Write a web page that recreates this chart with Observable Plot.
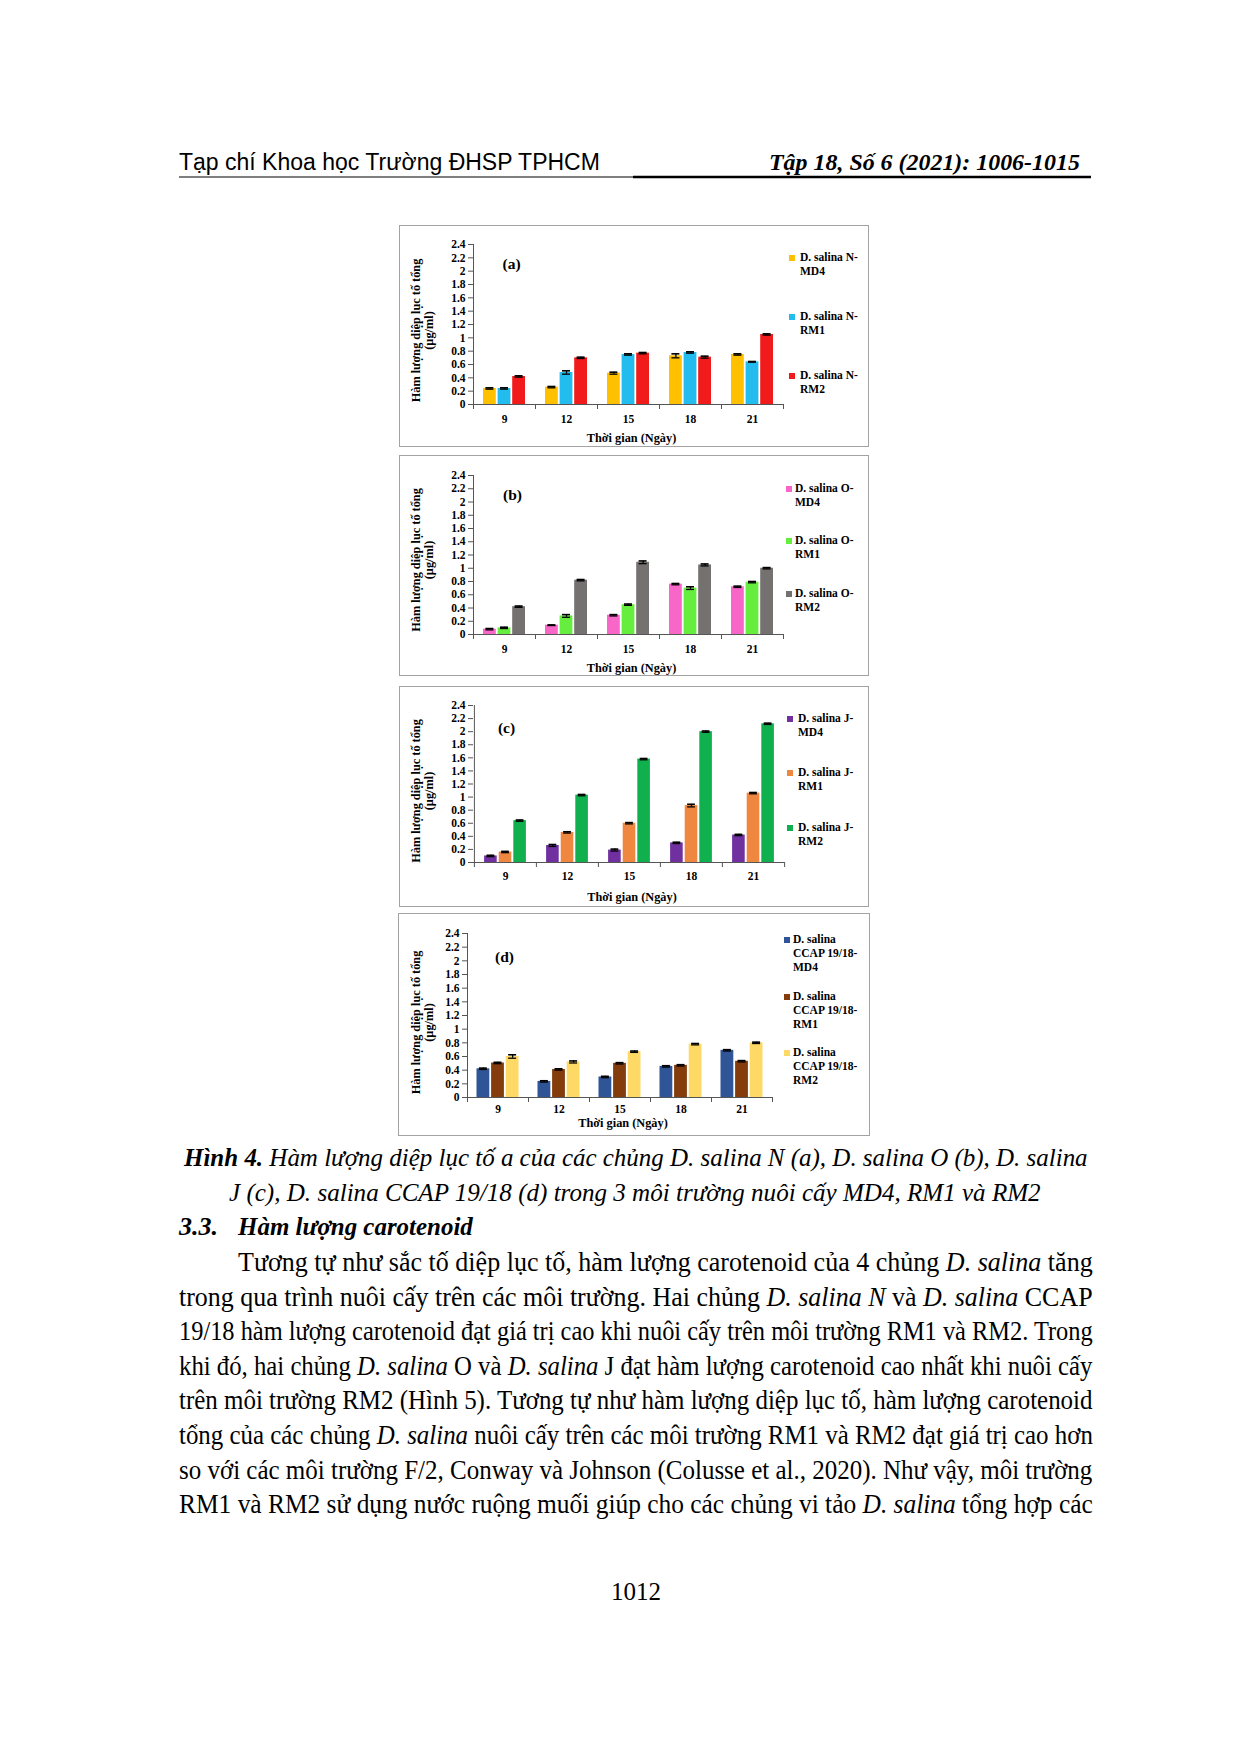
<!DOCTYPE html>
<html><head><meta charset="utf-8">
<script src="https://cdn.jsdelivr.net/npm/d3@7"></script>
<script src="https://cdn.jsdelivr.net/npm/@observablehq/plot@0.6"></script>
<style>
body{margin:0;background:#fff;width:1240px;height:1754px;position:relative;overflow:hidden}
.abs{position:absolute}
.box{position:absolute;border:1px solid #a3a3a3;box-sizing:border-box}
.leg{position:absolute;font:bold 11.5px "Liberation Serif",serif;line-height:13.8px;color:#000;white-space:pre}
.sw{position:absolute;width:6px;height:6px}
</style></head><body>
<svg id="page" class="abs" width="1240" height="1754" style="left:0;top:0"></svg>
<script>
// ---------- data ----------
const days = [9, 12, 15, 18, 21];
const yTicks = [0, 0.2, 0.4, 0.6, 0.8, 1, 1.2, 1.4, 1.6, 1.8, 2, 2.2, 2.4];
const yTitle = "Hàm lượng diệp lục tố tổng\n(µg/ml)";
const xTitle = "Thời gian (Ngày)";

// (a) D. salina N
const nMD4 = [0.24, 0.26, 0.47, 0.73, 0.75];
const nMD4Err = [0.01, 0.01, 0.015, 0.03, 0.01];
const nRM1 = [0.24, 0.48, 0.75, 0.78, 0.64];
const nRM1Err = [0.01, 0.025, 0.01, 0.01, 0.005];
const nRM2 = [0.42, 0.70, 0.77, 0.71, 1.05];
const nRM2Err = [0.01, 0.01, 0.01, 0.015, 0.01];
const nLabels = ["D. salina N-\nMD4", "D. salina N-\nRM1", "D. salina N-\nRM2"];

// (b) D. salina O
const oMD4 = [0.08, 0.14, 0.29, 0.76, 0.72];
const oMD4Err = [0.01, 0.005, 0.01, 0.01, 0.01];
const oRM1 = [0.10, 0.28, 0.45, 0.70, 0.79];
const oRM1Err = [0.01, 0.02, 0.01, 0.02, 0.01];
const oRM2 = [0.42, 0.82, 1.09, 1.05, 1.00];
const oRM2Err = [0.01, 0.01, 0.02, 0.015, 0.01];
const oLabels = ["D. salina O-\nMD4", "D. salina O-\nRM1", "D. salina O-\nRM2"];

// (c) D. salina J
const jMD4 = [0.10, 0.26, 0.19, 0.30, 0.42];
const jMD4Err = [0.01, 0.015, 0.015, 0.01, 0.01];
const jRM1 = [0.16, 0.46, 0.60, 0.87, 1.06];
const jRM1Err = [0.01, 0.01, 0.01, 0.02, 0.01];
const jRM2 = [0.64, 1.03, 1.58, 2.00, 2.12];
const jRM2Err = [0.01, 0.01, 0.01, 0.01, 0.01];
const jLabels = ["D. salina J-\nMD4", "D. salina J-\nRM1", "D. salina J-\nRM2"];

// (d) D. salina CCAP 19/18
const cMD4 = [0.42, 0.235, 0.30, 0.455, 0.69];
const cMD4Err = [0.01, 0.01, 0.01, 0.01, 0.01];
const cRM1 = [0.505, 0.41, 0.50, 0.47, 0.53];
const cRM1Err = [0.01, 0.01, 0.01, 0.01, 0.01];
const cRM2 = [0.60, 0.52, 0.67, 0.78, 0.80];
const cRM2Err = [0.025, 0.015, 0.01, 0.01, 0.01];
const cLabels = ["D. salina\nCCAP 19/18-\nMD4", "D. salina\nCCAP 19/18-\nRM1", "D. salina\nCCAP 19/18-\nRM2"];

const panelLetters = ["(a)", "(b)", "(c)", "(d)"];

// page text
const headerLeft = "Tạp chí Khoa học Trường ĐHSP TPHCM";
const headerRight = "Tập 18, Số 6 (2021): 1006-1015";
const captionLines = [
  [["Hình 4.", "bi"], [" Hàm lượng diệp lục tố a của các chủng D. salina N (a), D. salina O (b), D. salina", "i"]],
  [["J (c), D. salina CCAP 19/18 (d) trong 3 môi trường nuôi cấy MD4, RM1 và RM2", "i"]]
];
const sectionNumber = "3.3.";
const sectionTitle = "Hàm lượng carotenoid";
const bodyLines = [
  [["Tương tự như sắc tố diệp lục tố, hàm lượng carotenoid của 4 chủng ", ""], ["D. salina", "i"], [" tăng", ""]],
  [["trong qua trình nuôi cấy trên các môi trường. Hai chủng ", ""], ["D. salina N", "i"], [" và ", ""], ["D. salina", "i"], [" CCAP", ""]],
  [["19/18 hàm lượng carotenoid đạt giá trị cao khi nuôi cấy trên môi trường RM1 và RM2. Trong", ""]],
  [["khi đó, hai chủng ", ""], ["D. salina", "i"], [" O và ", ""], ["D. salina", "i"], [" J đạt hàm lượng carotenoid cao nhất khi nuôi cấy", ""]],
  [["trên môi trường RM2 (Hình 5). Tương tự như hàm lượng diệp lục tố, hàm lượng carotenoid", ""]],
  [["tổng của các chủng ", ""], ["D. salina", "i"], [" nuôi cấy trên các môi trường RM1 và RM2 đạt giá trị cao hơn", ""]],
  [["so với các môi trường F/2, Conway và Johnson (Colusse et al., 2020). Như vậy, môi trường", ""]],
  [["RM1 và RM2 sử dụng nước ruộng muối giúp cho các chủng vi tảo ", ""], ["D. salina", "i"], [" tổng hợp các", ""]]
];
const pageNumber = "1012";

// ---------- layout / styles ----------
const panels = [
  {box: {x: 399, y: 225, w: 470, h: 222}, ax: {x0: 473, x1: 783, y0: 404, yTop: 244},
   series: [[nMD4, nMD4Err], [nRM1, nRM1Err], [nRM2, nRM2Err]], labels: nLabels,
   colors: ["#FFC000", "#22BDEE", "#F21B1B"], letter: {cx: 511, cy: 264},
   xTitleDy: 34, tickPad: 10, yTitleDy: 6, legend: {sx: 789, tx: 800, ys: [258, 317, 376]}},
  {box: {x: 399, y: 455, w: 470, h: 221}, ax: {x0: 473, x1: 783, y0: 634, yTop: 475},
   series: [[oMD4, oMD4Err], [oRM1, oRM1Err], [oRM2, oRM2Err]], labels: oLabels,
   colors: ["#F866C8", "#66EE3E", "#767171"], letter: {cx: 512, cy: 495},
   xTitleDy: 34, tickPad: 10, yTitleDy: 5, legend: {sx: 786, tx: 795, ys: [489, 541, 594]}},
  {box: {x: 399, y: 686, w: 470, h: 221}, ax: {x0: 473, x1: 784, y0: 862, yTop: 705},
   series: [[jMD4, jMD4Err], [jRM1, jRM1Err], [jRM2, jRM2Err]], labels: jLabels,
   colors: ["#7030A0", "#F08740", "#11B04F"], letter: {cx: 506, cy: 728},
   xTitleDy: 35, tickPad: 9, yTitleDy: 7, legend: {sx: 787, tx: 798, ys: [719, 773, 828]}},
  {box: {x: 398, y: 913, w: 472, h: 223}, ax: {x0: 467, x1: 772, y0: 1097, yTop: 933},
   series: [[cMD4, cMD4Err], [cRM1, cRM1Err], [cRM2, cRM2Err]], labels: cLabels,
   colors: ["#2F5597", "#843C0C", "#FFD966"], letter: {cx: 504, cy: 957},
   xTitleDy: 26, tickPad: 7, yTitleDy: 7, legend: {sx: 784, tx: 793, ys: [940, 997, 1053]}}
];

function makePanel(p, letter) {
  const {box, ax} = p;
  const ml = ax.x0 - box.x, mr = box.x + box.w - ax.x1;
  const mt = ax.yTop - box.y, mb = box.y + box.h - ax.y0;
  const bw = (ax.x1 - ax.x0) / days.length;
  const barW = 12.8, step = 14.6, capW = 8;
  const ins = (bw - barW) / 2, capIns = (bw - capW) / 2;
  const marks = [];
  p.series.forEach(([vals, errs], k) => {
    const off = (k - 1) * step;
    marks.push(Plot.barY(days, {x: d => d, y: (d, i) => vals[i], fill: p.colors[k], insetLeft: ins, insetRight: ins, dx: off}));
  });
  p.series.forEach(([vals, errs], k) => {
    const off = (k - 1) * step;
    marks.push(Plot.ruleX(days, {x: d => d, y1: (d, i) => vals[i] - errs[i], y2: (d, i) => vals[i] + errs[i], dx: off, stroke: "#000", strokeWidth: 1.3}));
    marks.push(Plot.tickY(days, {x: d => d, y: (d, i) => vals[i] + errs[i], dx: off, insetLeft: capIns, insetRight: capIns, stroke: "#000", strokeWidth: 1.6}));
    marks.push(Plot.tickY(days, {x: d => d, y: (d, i) => vals[i] - errs[i], dx: off, insetLeft: capIns, insetRight: capIns, stroke: "#000", strokeWidth: 1.3}));
  });
  marks.push(Plot.ruleY([0], {stroke: "#555"}));
  marks.push(Plot.ruleX([days[0]], {x: d => d, dx: -bw / 2, stroke: "#555"}));
  marks.push(Plot.axisY({ticks: yTicks, tickSize: 5, tickPadding: 3, tickFormat: d => String(d), fontWeight: "bold", fontSize: 11.5, label: null, stroke: "#555"}));
  marks.push(Plot.axisX({tickSize: 0, tickPadding: p.tickPad, fontWeight: "bold", fontSize: 11.5, label: null}));
  marks.push(Plot.axisX({tickSize: 5, dx: -bw / 2, tickFormat: () => "", label: null, stroke: "#555"}));
  marks.push(Plot.axisX([days[days.length - 1]], {tickSize: 5, dx: bw / 2, tickFormat: () => "", label: null, stroke: "#555"}));
  marks.push(Plot.text([yTitle], {text: d => d, frameAnchor: "left", textAnchor: "middle", lineAnchor: "middle", rotate: -90, dx: 421.5 - ax.x0, dy: p.yTitleDy, fontSize: 12.3, fontWeight: "bold", lineHeight: 1.06}));
  marks.push(Plot.text([xTitle], {text: d => d, frameAnchor: "bottom", textAnchor: "middle", lineAnchor: "middle", dx: 3, dy: p.xTitleDy, fontSize: 12.3, fontWeight: "bold"}));
  marks.push(Plot.text([letter], {text: d => d, frameAnchor: "top-left", textAnchor: "middle", lineAnchor: "middle", dx: p.letter.cx - ax.x0, dy: p.letter.cy - ax.yTop, fontSize: 15.5, fontWeight: "bold"}));
  const svg = Plot.plot({
    width: box.w, height: box.h,
    marginLeft: ml, marginRight: mr, marginTop: mt, marginBottom: mb,
    x: {type: "band", domain: days, padding: 0},
    y: {domain: [0, 2.4]},
    style: {background: "transparent", fontFamily: "'Liberation Serif', serif", fontSize: "11.5px", color: "#000", overflow: "visible"},
    marks
  });
  svg.style.position = "absolute";
  svg.style.left = box.x + "px";
  svg.style.top = box.y + "px";
  document.body.appendChild(svg);
  const frame = document.createElement("div");
  frame.className = "box";
  Object.assign(frame.style, {left: box.x + "px", top: box.y + "px", width: box.w + "px", height: box.h + "px"});
  document.body.appendChild(frame);
  // legend
  p.labels.forEach((lab, k) => {
    const yc = p.legend.ys[k];
    const sw = document.createElement("div");
    sw.className = "sw";
    Object.assign(sw.style, {left: p.legend.sx + "px", top: (yc - 3) + "px", background: p.colors[k]});
    document.body.appendChild(sw);
    const t = document.createElement("div");
    t.className = "leg";
    t.textContent = lab;
    Object.assign(t.style, {left: p.legend.tx + "px", top: (yc - 7) + "px"});
    document.body.appendChild(t);
  });
}
panels.forEach((p, i) => makePanel(p, panelLetters[i]));

// ---------- page text ----------
const NS = "http://www.w3.org/2000/svg";
const page = document.getElementById("page");
function addText(parts, x, y, opts) {
  const t = document.createElementNS(NS, "text");
  t.setAttribute("x", 0);
  t.setAttribute("y", 0);
  t.setAttribute("font-family", opts.family || "'Liberation Serif', serif");
  t.setAttribute("font-size", opts.size);
  t.setAttribute("fill", "#000");
  t.style.whiteSpace = "pre";
  if (opts.anchor) t.setAttribute("text-anchor", opts.anchor);
  parts.forEach(([s, st]) => {
    const sp = document.createElementNS(NS, "tspan");
    sp.textContent = s;
    if (st.includes("i")) sp.setAttribute("font-style", "italic");
    if (st.includes("b")) sp.setAttribute("font-weight", "bold");
    t.appendChild(sp);
  });
  page.appendChild(t);
  let k = 1;
  if (opts.len) {
    const natural = t.getComputedTextLength();
    if (natural > 0) k = opts.len / natural;
  }
  t.setAttribute("transform", `translate(${x},${y}) scale(${k},1)`);
}
function addLine(x1, x2, y, w) {
  const l = document.createElementNS(NS, "line");
  l.setAttribute("x1", x1); l.setAttribute("x2", x2);
  l.setAttribute("y1", y); l.setAttribute("y2", y);
  l.setAttribute("stroke", "#000"); l.setAttribute("stroke-width", w);
  page.appendChild(l);
}
addText([[headerLeft, ""]], 179, 170, {family: "'Liberation Sans', Arial, sans-serif", size: 23, len: 421});
addText([[headerRight, "bi"]], 769, 170, {size: 24, len: 311});
addLine(179, 633, 177, 1.2);
addLine(633, 1091, 177, 2.6);

addText(captionLines[0], 184, 1166, {size: 26, len: 904});
addText(captionLines[1], 229, 1201, {size: 26, len: 812});
addText([[sectionNumber, "bi"]], 179, 1235, {size: 26});
addText([[sectionTitle, "bi"]], 238, 1235, {size: 26, len: 235});
bodyLines.forEach((ln, i) => {
  const x = i === 0 ? 238 : 179;
  addText(ln, x, 1271 + i * 34.6, {size: 27, len: 1093 - x});
});
addText([[pageNumber, ""]], 636, 1600, {size: 25, anchor: "middle"});
</script>
</body></html>
